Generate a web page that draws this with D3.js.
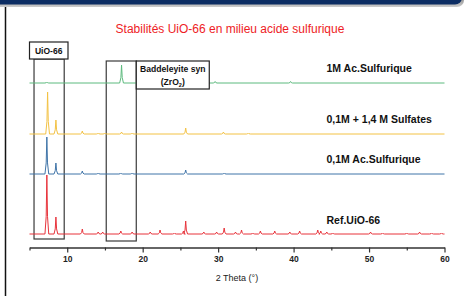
<!DOCTYPE html>
<html>
<head>
<meta charset="utf-8">
<script src="https://cdn.jsdelivr.net/npm/d3@7"></script>
<style>
  body { margin: 0; background: #fff; }
  svg { display: block; font-family: "Liberation Sans", Arial, sans-serif; }
</style>
</head>
<body>
<div class="chart"></div>
<script>
// peaks as [2theta, height]
const refPeaks = [
  [7.3, 59], [8.5, 17], [12.0, 5], [14.1, 2], [14.7, 2], [17.1, 3], [18.6, 2],
  [21.0, 2], [22.3, 4], [24.2, 1], [25.4, 3], [25.7, 13], [28.1, 2], [29.8, 2],
  [30.8, 6], [32.3, 2], [33.1, 4], [34.6, 1], [35.6, 3], [37.5, 3], [39.5, 2],
  [40.8, 3], [43.2, 4], [43.6, 3], [44.4, 2], [45.2, 1], [50.2, 2], [51.8, 1],
  [55.0, 1], [56.7, 2], [58.3, 1], [59.6, 1]
]
const acid01Peaks = [
  [7.3, 37], [8.5, 11], [12.0, 3], [14.1, 1], [17.1, 1], [18.6, 1], [25.7, 4], [30.8, 1]
]
const sulfatesPeaks = [
  [7.4, 42], [8.5, 14], [12.0, 3], [14.1, 1], [15.0, 1], [17.2, 2], [18.6, 1],
  [25.7, 6], [30.7, 2], [34.0, 1]
]
const acid1Peaks = [
  [7.3, 1], [17.2, 18], [29.6, 1.5], [39.6, 1.5]
]

const seriesNames = ["Ref.UiO-66", "0,1M Ac.Sulfurique", "0,1M + 1,4 M Sulfates", "1M Ac.Sulfurique"]
const seriesPeaks = [refPeaks, acid01Peaks, sulfatesPeaks, acid1Peaks]
const seriesOffsets = [0, 60, 100, 151]
const seriesColors = ["#e8333b", "#3f74a8", "#f3c244", "#5dba7e"]
const labelOffsets = [10.5, 11.5, 11, 11]

const majorTicks = [10, 20, 30, 40, 50, 60]
const minorTicks = [5, 15, 25, 35, 45, 55]

const w = 471
const h = 296

const svg = d3.select(".chart").append("svg").attr("width", w).attr("height", h)

// frame: navy bar on top + left border
const defs = svg.append("defs")
const grad = defs.append("linearGradient").attr("id", "shade").attr("x1", 0).attr("y1", 0).attr("x2", 0).attr("y2", 1)
grad.append("stop").attr("offset", 0).attr("stop-color", "#555")
grad.append("stop").attr("offset", 1).attr("stop-color", "#ccc")
svg.append("rect").attr("x", -10).attr("y", -10).attr("width", 474).attr("height", 17).attr("rx", 7).attr("fill", "url(#shade)")
svg.append("rect").attr("x", -10).attr("y", -10).attr("width", 472).attr("height", 14.5).attr("rx", 7).attr("fill", "#0c2d63")
svg.append("line").attr("x1", 5.5).attr("x2", 5.5).attr("y1", 7).attr("y2", h).attr("stroke", "#111").attr("stroke-width", 1.5)

const x = d3.scaleLinear().domain([5, 60]).range([29.5, 444.5])
const y = d3.scaleLinear().domain([0, 170]).range([234, 64])

const halfWidth = 0.25
const toPoints = (peaks) => {
  let pts = [[5, 0]]
  peaks.forEach(([p, ht]) => {
    pts.push([p - halfWidth, 0], [p - halfWidth * 0.35, ht * 0.3], [p, ht], [p + halfWidth * 0.35, ht * 0.3], [p + halfWidth, 0])
  })
  pts.push([60, 0])
  return pts
}

const line = d3.line().x((d) => x(d[0])).y((d) => d[1])

// annotation boxes
const boxStroke = "#3a3a3a"
svg.append("rect").attr("x", x(5.6)).attr("y", 59).attr("width", x(9.6) - x(5.6)).attr("height", 180)
  .attr("fill", "none").attr("stroke", boxStroke).attr("stroke-width", 1.2)
svg.append("rect").attr("x", x(15.17)).attr("y", 61).attr("width", x(19.15) - x(15.17)).attr("height", 180)
  .attr("fill", "none").attr("stroke", boxStroke).attr("stroke-width", 1.2)

// traces
seriesPeaks.forEach((peaks, i) => {
  const off = seriesOffsets[i]
  svg.append("path")
    .attr("d", line(toPoints(peaks).map((d) => [d[0], y(d[1] + off)])))
    .attr("fill", "none")
    .attr("stroke", seriesColors[i])
    .attr("stroke-width", 1)
})

// label boxes
svg.append("rect").attr("x", 29.5).attr("y", 42).attr("width", 38.5).attr("height", 17)
  .attr("fill", "#fff").attr("stroke", "#222").attr("stroke-width", 1.2)
svg.append("text").attr("x", 48.7).attr("y", 53.5).attr("text-anchor", "middle")
  .attr("font-size", 8.5).attr("font-weight", "bold").attr("fill", "#111").text("UiO-66")

svg.append("rect").attr("x", x(19.15)).attr("y", 61).attr("width", 73).attr("height", 28)
  .attr("fill", "#fff").attr("stroke", "#222").attr("stroke-width", 1.2)
svg.append("text").attr("x", x(19.15) + 36.5).attr("y", 72).attr("text-anchor", "middle")
  .attr("font-size", 8.6).attr("font-weight", "bold").attr("fill", "#111").text("Baddeleyite syn")
const zr = svg.append("text").attr("x", x(19.15) + 36.5).attr("y", 84.5).attr("text-anchor", "middle")
  .attr("font-size", 8.6).attr("font-weight", "bold").attr("fill", "#111")
zr.append("tspan").text("(ZrO")
zr.append("tspan").attr("font-size", 5.5).attr("dy", 2).text("2")
zr.append("tspan").attr("dy", -2).text(")")

// series labels
seriesNames.forEach((name, i) => {
  svg.append("text")
    .attr("x", 326.5)
    .attr("y", y(seriesOffsets[i] + labelOffsets[i]))
    .attr("font-size", 10.5)
    .attr("font-weight", "bold")
    .attr("fill", "#111")
    .text(name)
})

// title
svg.append("text").attr("x", 230).attr("y", 32.5).attr("text-anchor", "middle")
  .attr("font-size", 12).attr("fill", "#ee1c25").text("Stabilités UiO-66 en milieu acide sulfurique")

// x axis
const axisY = 247.5
const gMinor = svg.append("g").attr("transform", `translate(0,${axisY})`)
  .call(d3.axisBottom(x).tickValues(minorTicks).tickSize(3).tickFormat(""))
gMinor.select(".domain").remove()
gMinor.selectAll("line").attr("stroke", "#333").attr("stroke-width", 1.2)

const gAxis = svg.append("g").attr("transform", `translate(0,${axisY})`)
  .call(d3.axisBottom(x).tickValues(majorTicks).tickSize(5).tickSizeOuter(0))
gAxis.select(".domain").attr("stroke", "#333").attr("stroke-width", 1.6)
gAxis.selectAll("line").attr("stroke", "#333").attr("stroke-width", 1.2)
gAxis.selectAll("text").attr("font-size", 8.5).attr("font-weight", "bold").attr("fill", "#222")
  .attr("font-family", "'Liberation Sans', Arial, sans-serif").attr("y", 8)

svg.append("text").attr("x", 237).attr("y", 281).attr("text-anchor", "middle")
  .attr("font-size", 9).attr("fill", "#222").text("2 Theta (°)")
</script>
</body>
</html>
